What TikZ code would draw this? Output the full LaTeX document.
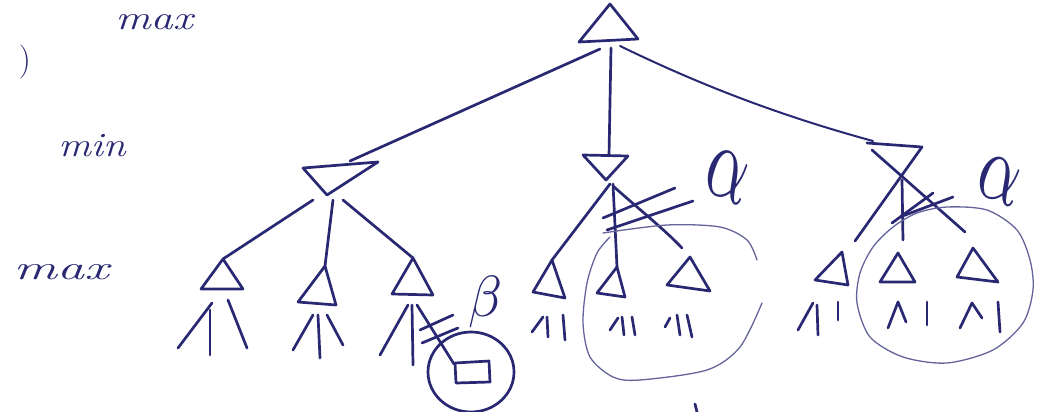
\documentclass[tikz,border=0pt]{standalone}
\definecolor{ink}{RGB}{40,40,115}
\definecolor{inkthin}{RGB}{100,100,155}
\tikzset{
  pen/.style={draw=ink, line width=2.7pt, line cap=round, line join=round},
  thinpen/.style={draw=inkthin, line width=1.3pt, line cap=round, line join=round},
  hand/.style={text=ink, inner sep=0pt, font=\fontsize{34}{34}\selectfont\itshape},
  greek/.style={text=ink, inner sep=0pt},
}
\newcommand{\mytri}[4]{%
  \coordinate (#1a) at #2; \coordinate (#1l) at #3; \coordinate (#1r) at #4;
  \draw[pen] (#1a) -- (#1l) -- (#1r) -- cycle;}
\begin{document}
\begin{tikzpicture}[x=1pt,y=-1pt]
\useasboundingbox (0,0) rectangle (1037,412);

% labels on the left
\node[hand, xscale=1.3] (lmax1) at (154,22) {max};
\node[hand, font=\fontsize{34}{34}\selectfont] (paren) at (25,62) {)};
\node[hand, xscale=1.2] (lmin) at (92,146) {min};
\node[hand, xscale=1.6] (lmax2) at (61,272) {max};

% root (max)
\mytri{root}{(610,4)}{(579,42)}{(638,39)}
\coordinate (rootL) at (600,49);
\coordinate (rootM) at (611,48);
\coordinate (rootR) at (620,46);

% min level
\mytri{minA}{(327,195)}{(303,168)}{(378,162)}
\mytri{minB}{(606,180)}{(583,155)}{(628,156)}
\coordinate (minCtl) at (867,143);
\coordinate (minCtr) at (922,147);

\draw[pen] (rootL) -- (350,161);
\draw[pen] (rootM) -- (609,156);
\draw[pen, line width=2pt] (rootR) .. controls (690,80) and (770,113) .. (873,141);

% right min (crossed)
\draw[pen] (minCtl) -- (minCtr);
\draw[pen] (872,150) -- (965,232);
\draw[pen] (minCtr) -- (855,241);
\draw[pen] (902,180) -- (903,240);

% left group
\mytri{tA}{(223,259)}{(201,289)}{(243,289)}
\mytri{tB}{(325,266)}{(298,302)}{(336,305)}
\mytri{tC}{(413,258)}{(392,294)}{(433,295)}
\draw[pen] (313,200) -- (tAa);
\draw[pen] (333,200) -- (tBa);
\draw[pen] (343,200) -- (tCa);
\draw[pen] (178,348) -- (212,303);
\draw[pen] (210,310) -- (210,355);
\draw[pen] (228,300) -- (247,348);
\draw[pen] (293,350) -- (313,315);
\draw[pen] (318,315) -- (320,358);
\draw[pen] (327,315) -- (343,345);
\draw[pen] (380,355) -- (408,305);
\draw[pen] (412,305) -- (413,365);
\draw[pen] (417,305) -- (454,364);
% beta cut and pruned leaf
\draw[pen] (420,330) -- (453,315);
\draw[pen] (422,343) -- (458,328);
\draw[pen] (455,363) -- (489,361) -- (490,382) -- (456,383) -- cycle;
\draw[pen] (471,372) ellipse[x radius=43, y radius=40];
\node[greek, xscale=5.5, yscale=5.8] (beta) at (486,302) {$\beta$};

% middle group
\mytri{mA}{(552,260)}{(533,292)}{(565,298)}
\mytri{mB}{(617,267)}{(597,293)}{(625,297)}
\mytri{mC}{(690,257)}{(667,285)}{(710,291)}
\draw[pen] (610,184) -- (mAa);
\draw[pen] (613,184) -- (mBa);
\draw[pen] (613,186) .. controls (640,210) and (665,230) .. (682,248);
\draw[pen] (603,218) -- (675,188);
\draw[pen] (607,230) -- (693,201);
\node[greek, xscale=6.5, yscale=11, rotate=-15] (alpha1) at (727,176) {$\alpha$};
\draw[pen] (532,332) -- (543,317);
\draw[pen] (547,317) -- (548,337);
\draw[pen] (563,315) -- (565,340);
\draw[pen] (610,330) -- (618,318);
\draw[pen] (622,317) -- (624,335);
\draw[pen] (632,317) -- (635,335);
\draw[pen] (665,327) -- (670,318);
\draw[pen] (677,315) -- (680,335);
\draw[pen] (687,315) -- (692,337);
\draw[thinpen] plot[smooth] coordinates {(603,233) (667,225) (720,227) (747,240) (757,260)};
\draw[thinpen] plot[smooth] coordinates {(762,303) (740,347) (707,370) (640,380) (613,377) (590,357) (583,323) (587,283) (597,253) (610,237)};

% right group
\mytri{rA}{(842,252)}{(815,280)}{(848,285)}
\mytri{rB}{(898,253)}{(880,282)}{(915,282)}
\mytri{rC}{(973,248)}{(957,277)}{(998,282)}
\draw[pen] (892,223) -- (933,193);
\draw[pen] (900,217) -- (953,197);
\node[greek, xscale=6.5, yscale=10, rotate=-15] (alpha2) at (999,180) {$\alpha$};
\draw[pen] (798,330) -- (813,303);
\draw[pen] (817,305) -- (818,335);
\draw[pen] (838,302) -- (838,320);
\draw[pen] (888,328) -- (898,302) -- (906,322);
\draw[pen] (927,302) -- (927,325);
\draw[pen] (960,328) -- (972,303) -- (982,318);
\draw[pen] (998,302) -- (1000,332);
\draw[thinpen] plot[smooth cycle] coordinates {(947,207) (987,210) (1017,230) (1030,260) (1033,290) (1023,323) (993,350) (947,363) (903,357) (870,337) (857,303) (860,273) (873,247) (893,227) (917,213)};

% fragment at the bottom edge
\draw[pen] (695,404) -- (697,412);
\end{tikzpicture}
\end{document}
